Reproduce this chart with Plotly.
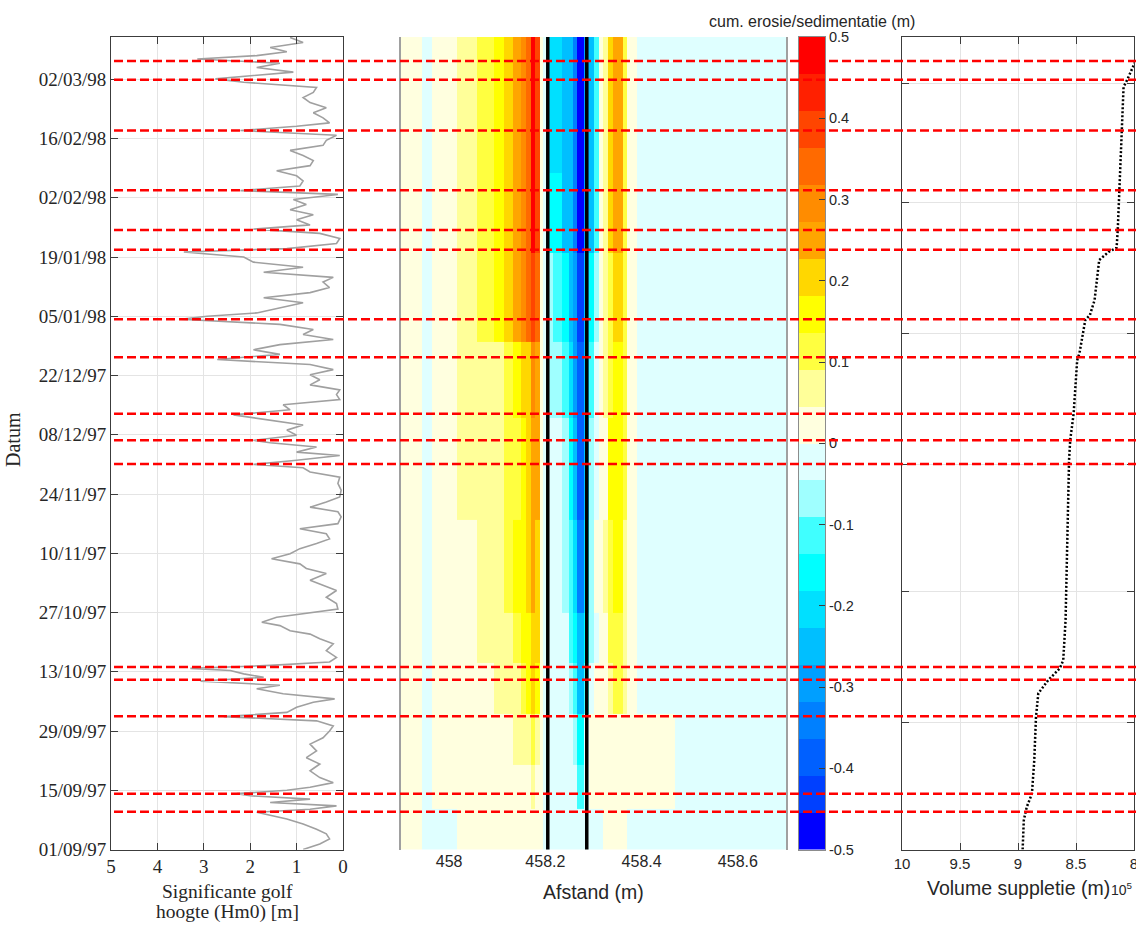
import pandas as pd
import plotly.graph_objects as go

W, H = 1136, 925
T0 = pd.Timestamp("1997-09-01")

# ---------------- data ----------------
# significant wave height (Hm0) [m] ; time in days since 01/09/97
wave_day = [0.0, 1.3, 2.5, 3.7, 4.8, 6.0, 7.2, 8.0, 8.8, 9.5, 10.3, 11.1, 11.9, 12.7, 13.2, 14.0, 14.7, 15.8,
            17.0, 18.6, 20.2, 21.7, 23.3, 24.9, 26.4, 28.0, 29.2, 30.4, 31.4, 32.4, 33.6, 34.8, 35.6, 36.8,
            38.0, 38.8, 39.8, 40.7, 41.5, 42.3, 42.8, 43.5, 44.3, 45.4, 47.0, 48.6, 49.8, 50.9, 51.7, 52.9,
            53.7, 54.9, 55.8, 56.8, 58.1, 59.6, 61.2, 62.4, 63.6, 65.2, 66.4, 67.5, 68.7, 69.9, 71.1, 72.3,
            73.4, 74.6, 75.8, 77.0, 78.6, 79.8, 80.9, 82.1, 83.3, 84.9, 86.5, 88.0, 89.2, 90.2, 91.0, 92.0,
            93.1, 93.9, 95.1, 96.1,
            96.7, 97.9, 99.1, 100.3, 101.5, 102.7, 103.9, 105.1, 106.3, 107.5, 108.6, 109.8, 111.0, 112.2,
            113.4, 114.6, 115.8, 117.0, 118.1, 119.3, 120.5, 121.7, 122.9, 124.1, 125.3, 126.0, 126.8, 128.0,
            129.2, 130.4, 131.6, 132.8, 134.1, 135.2, 136.4, 137.6, 138.8, 140.0, 141.2, 142.0, 143.2, 144.4,
            145.6, 146.6, 147.6, 148.8, 150.0, 151.2, 152.4, 153.6, 154.8, 155.7, 156.8, 158.0, 159.2, 160.4,
            161.6, 162.8, 164.0, 165.2, 166.4, 167.6, 168.8, 169.9, 170.9, 171.7, 172.9, 174.1, 175.3, 176.5,
            177.7, 178.9, 180.1, 181.3, 182.1, 182.9, 183.7, 184.8, 185.8, 186.8, 187.6, 188.5, 189.5, 190.7,
            191.9]
wave_hm0 = [0.86, 0.5, 0.29, 0.36, 0.57, 0.86, 1.21, 1.57, 1.86, 0.71, 0.14, 1.57, 0.71, 2.0, 2.29, 1.21, 0.71,
            0.21, 0.5, 0.71, 0.5, 0.79, 0.57, 0.71, 0.43, 0.29, 0.21, 0.57, 2.57, 1.21, 1.0, 0.64, 0.18, 1.29,
            1.86, 1.36, 3.07, 1.71, 2.14, 2.43, 3.29, 1.57, 0.29, 0.14, 0.36, 0.21, 0.5, 0.71, 1.14, 1.36, 1.75,
            1.43, 0.79, 0.11, 0.14, 0.36, 0.14, 0.43, 0.71, 0.36, 0.79, 0.93, 1.54, 1.14, 0.93, 0.57, 0.29, 0.36,
            0.93, 0.11, 0.04, 0.11, 0.71, 0.36, 0.07, 0.04, 0.11, 0.07, 0.71, 0.86, 1.93, 1.0, 0.07, 1.0, 0.57,
            1.57,
            1.93, 1.0, 1.21, 0.86, 1.57, 2.36, 1.14, 1.29, 0.07, 0.14, 0.07, 0.71, 0.5, 0.71, 0.21, 0.71, 2.71,
            1.36, 1.93, 1.36, 0.21, 0.86, 0.64, 1.36, 3.5, 2.93, 1.86, 1.36, 0.86, 1.71, 0.71, 0.29, 0.43, 0.21,
            1.71, 0.86, 1.93, 2.14, 3.43, 1.21, 0.14, 0.07, 0.5, 1.93, 0.71, 1.0, 0.64, 1.14, 0.79, 1.07, 0.11,
            2.21, 0.93, 0.86, 1.0, 1.43, 0.71, 0.64, 0.86, 1.14, 0.43, 0.36, 0.14, 2.21, 1.0, 0.29, 0.43, 0.64,
            0.36, 0.71, 0.86, 0.64, 0.57, 2.14, 2.75, 1.93, 1.07, 1.86, 1.36, 3.14, 1.86, 1.21, 1.57, 0.86, 1.14]

# cumulative volume of nourishment [m3]
vol_day = [0, 6.9, 10.0, 13.2, 21.0, 31.3, 36.9, 40.0, 42.8, 44.7, 54.2, 76.1, 92.0, 96.7, 103.1, 115.6, 117.3,
           125.1, 126.3, 129.8, 139.3, 141.2, 142.2, 146.4, 153.5, 169.3, 180.2, 181.8, 184.9, 186.1]
vol_m3 = [896000, 895000, 892500, 888000, 886000, 884500, 882500, 874000, 864000, 861000, 859000, 857500,
          856000, 855000, 852000, 849000, 847000, 842000, 838000, 834000, 830000, 822000, 815000, 814000,
          813000, 811000, 809000, 806000, 801000, 799000]

# storm events (red dashed lines), days since 01/09/97
event_day = [8.9, 13.2, 31.5, 40.1, 43.1, 91.1, 96.7, 103.0, 116.3, 125.3, 141.7, 146.4, 155.8, 169.9,
             181.9, 186.3]

# cumulative erosion/sedimentation [m]: column edges (Afstand, m) and time-band edges (days)
ero_x_edges = [457.900, 457.944, 457.964, 458.017, 458.058, 458.094, 458.113, 458.133, 458.149, 458.160,
               458.170, 458.179, 458.188, 458.196, 458.205, 458.215, 458.235, 458.249, 458.258, 458.266,
               458.280, 458.290, 458.301, 458.311, 458.320, 458.331, 458.340, 458.361, 458.370, 458.391,
               458.470, 458.700]
ero_day_edges = [0, 9.5, 20, 32, 44, 56, 78, 102, 120, 141, 160, 192.5]
ero_z = [
    [0.02, -0.02, -0.02, 0.02, 0.02, 0.02, 0.02, 0.02, 0.02, 0.02, 0.02, 0.02, 0.02, -0.02, -0.02, -0.02,
     -0.02, -0.02, -0.02, -0.02, -0.02, -0.02, -0.02, -0.02, 0.02, 0.02, 0.02, 0.02, -0.02, -0.02, -0.02],
    [0.02, -0.02, 0.02, 0.02, 0.02, 0.02, 0.02, 0.02, 0.02, 0.02, 0.07, 0.02, 0.02, -0.02, -0.02, -0.02,
     -0.02, -0.02, -0.02, -0.11, -0.02, 0.02, 0.02, 0.02, 0.02, 0.02, 0.02, 0.02, 0.02, 0.02, -0.02],
    [0.02, -0.02, 0.02, 0.02, 0.02, 0.02, 0.02, 0.07, 0.07, 0.07, 0.11, 0.07, 0.02, -0.02, -0.02, -0.02,
     -0.02, -0.02, -0.07, -0.16, -0.02, 0.02, 0.02, 0.02, 0.02, 0.02, 0.02, 0.02, 0.02, 0.02, -0.02],
    [0.02, -0.02, 0.02, 0.02, 0.02, 0.07, 0.07, 0.07, 0.11, 0.16, 0.20, 0.16, 0.02, -0.02, -0.02, -0.02,
     -0.02, -0.07, -0.11, -0.25, -0.11, -0.02, 0.02, 0.02, 0.02, 0.07, 0.11, 0.07, 0.02, -0.02, -0.02],
    [0.02, -0.02, 0.02, 0.02, 0.07, 0.07, 0.07, 0.11, 0.16, 0.16, 0.20, 0.20, 0.02, -0.02, -0.02, -0.02,
     -0.02, -0.11, -0.16, -0.25, -0.16, -0.07, -0.02, 0.02, 0.02, 0.11, 0.11, 0.07, 0.02, -0.02, -0.02],
    [0.02, -0.02, 0.02, 0.02, 0.07, 0.07, 0.11, 0.16, 0.16, 0.20, 0.25, 0.20, 0.02, -0.02, -0.02, -0.02,
     -0.07, -0.11, -0.20, -0.34, -0.20, -0.07, 0.02, 0.02, 0.07, 0.11, 0.16, 0.07, 0.02, -0.02, -0.02],
    [0.02, -0.02, 0.02, 0.07, 0.07, 0.07, 0.11, 0.11, 0.16, 0.20, 0.25, 0.25, 0.02, -0.02, -0.02, -0.02,
     -0.07, -0.16, -0.25, -0.39, -0.25, -0.07, -0.02, 0.02, 0.02, 0.16, 0.16, 0.11, 0.02, -0.02, -0.02],
    [0.02, -0.02, 0.02, 0.07, 0.07, 0.07, 0.11, 0.16, 0.20, 0.20, 0.30, 0.25, 0.02, -0.02, -0.07, -0.07,
     -0.11, -0.20, -0.30, -0.39, -0.25, -0.11, -0.02, 0.02, 0.07, 0.11, 0.16, 0.11, 0.02, -0.02, -0.02],
    [0.02, -0.02, 0.02, 0.07, 0.11, 0.16, 0.20, 0.25, 0.30, 0.34, 0.39, 0.34, 0.02, -0.02, -0.07, -0.11,
     -0.16, -0.25, -0.30, -0.43, -0.25, -0.16, -0.07, 0.02, 0.07, 0.11, 0.20, 0.11, 0.02, -0.02, -0.02],
    [0.02, -0.02, 0.02, 0.07, 0.11, 0.16, 0.20, 0.25, 0.30, 0.34, 0.48, 0.39, 0.02, -0.02, -0.16, -0.16,
     -0.25, -0.25, -0.34, -0.48, -0.30, -0.25, -0.11, 0.02, 0.07, 0.20, 0.25, 0.11, 0.02, -0.02, -0.02],
    [0.02, -0.02, 0.02, 0.07, 0.11, 0.16, 0.20, 0.25, 0.30, 0.34, 0.48, 0.39, 0.02, -0.02, -0.20, -0.20,
     -0.25, -0.25, -0.34, -0.48, -0.30, -0.25, -0.11, 0.02, 0.07, 0.20, 0.25, 0.11, 0.02, -0.02, -0.02],
]
structure_x = [458.205, 458.286]

# colour levels of the colour bar
cmap_colors = ["#0000FF", "#0040FF", "#0060FF", "#0080FF", "#009FFF", "#00BFFF", "#00E0FF", "#00FFFF",
               "#40FFFF", "#9FFFFF", "#DFFFFF", "#FFFFDF", "#FFFF99", "#FFFF40", "#FFFF00", "#FFD700",
               "#FFA500", "#FF8C00", "#FF6A00", "#FF4500", "#FF2000", "#FF0000"]
cbar_ticks = [0.5, 0.4, 0.3, 0.2, 0.1, 0, -0.1, -0.2, -0.3, -0.4, -0.5]
cbar_ticktext = ["0.5", "0.4", "0.3", "0.2", "0.1", "0", "-0.1", "-0.2", "-0.3", "-0.4", "-0.5"]
wave_ticks = [5, 4, 3, 2, 1, 0]
afstand_ticks = [458, 458.2, 458.4, 458.6]
afstand_ticktext = ["458", "458.2", "458.4", "458.6"]
vol_ticks = [1000000, 950000, 900000, 850000, 800000]
vol_ticktext = ["10", "9.5", "9", "8.5", "8"]


def to_date(days):
    return [T0 + pd.Timedelta(days=float(d)) for d in days]


# ---------------- figure ----------------
SERIF = "Liberation Serif, Times New Roman, serif"
SANS = "Liberation Sans, Arial, sans-serif"
TXT = "#262626"
GRID = "#E4E4E4"
BOX = "#3C3C3C"

ytop = 1 - 37 / H
ybot = 1 - 849.5 / H
XL = [111 / W, 343 / W]
XM = [401 / W, 786 / W]
XC = [799 / W, 825 / W]
XR = [902 / W, 1134 / W]

n = len(cmap_colors)
cscale = []
for k, c in enumerate(cmap_colors):
    cscale.append([k / n, c])
    cscale.append([(k + 1) / n, c])

fig = go.Figure()

fig.add_trace(go.Scatter(x=wave_hm0, y=to_date(wave_day), mode="lines",
                         line=dict(color="#A0A0A0", width=1.6), xaxis="x", yaxis="y"))

fig.add_trace(go.Heatmap(x=ero_x_edges, y=to_date(ero_day_edges), z=ero_z, colorscale=cscale,
                         zmin=-0.5, zmax=0.5, showscale=False, xaxis="x2", yaxis="y2"))

cb_edges = [-0.5 + k / n for k in range(n + 1)]
cb_mid = [[-0.5 + (k + 0.5) / n] for k in range(n)]
fig.add_trace(go.Heatmap(x=[0, 1], y=cb_edges, z=cb_mid, colorscale=cscale, zmin=-0.5, zmax=0.5,
                         showscale=False, xaxis="x4", yaxis="y4"))

fig.add_trace(go.Scatter(x=vol_m3, y=to_date(vol_day), mode="lines",
                         line=dict(color="black", width=2.5, dash="2px,2px"), xaxis="x3", yaxis="y3"))

date_range = [T0, T0 + pd.Timedelta(days=192)]
dtick = 14 * 86400000

box_axis = dict(showline=True, linecolor=BOX, linewidth=1, mirror="ticks", ticks="inside", ticklen=7,
                tickcolor=BOX, showgrid=True, gridcolor=GRID, gridwidth=1, zeroline=False, automargin=False,
                ticklabeloverflow="allow")

fig.update_layout(
    width=W, height=H, margin=dict(l=0, r=0, t=0, b=0, pad=0, autoexpand=False), autosize=False,
    paper_bgcolor="white", plot_bgcolor="white", showlegend=False,
    xaxis=dict(domain=XL, anchor="y", range=[5, 0], tickvals=wave_ticks,
               tickfont=dict(family=SERIF, size=19, color=TXT), **box_axis),
    yaxis=dict(domain=[ybot, ytop], anchor="x", type="date", range=date_range, tick0=T0, dtick=dtick,
               tickformat="%d/%m/%y", tickfont=dict(family=SERIF, size=19, color=TXT), **box_axis),
    xaxis2=dict(domain=XM, anchor="y2", range=[457.9, 458.7], tickvals=afstand_ticks,
                ticktext=afstand_ticktext, ticks="", showgrid=False, zeroline=False, showline=False,
                automargin=False, tickfont=dict(family=SANS, size=16, color=TXT)),
    yaxis2=dict(domain=[ybot, ytop], anchor="x2", matches="y", showticklabels=False, ticks="",
                showgrid=False, zeroline=False, showline=True, linecolor="#A0A0A0", linewidth=1.5,
                mirror=True, automargin=False),
    xaxis4=dict(domain=XC, anchor="y4", range=[0, 1], showticklabels=False, ticks="", showgrid=False,
                zeroline=False, showline=True, linecolor="#8C8C8C", mirror=True, automargin=False),
    yaxis4=dict(domain=[ybot, ytop], anchor="x4", side="right", range=[-0.5, 0.5], tickvals=cbar_ticks,
                ticktext=cbar_ticktext, ticks="inside", ticklen=6, tickcolor=BOX, showgrid=False,
                zeroline=False, showline=True, linecolor="#8C8C8C", mirror=True, automargin=False,
                tickfont=dict(family=SANS, size=14.5, color=TXT)),
    xaxis3=dict(domain=XR, anchor="y3", range=[1000000, 800000], tickvals=vol_ticks, ticktext=vol_ticktext,
                tickfont=dict(family=SANS, size=15, color=TXT), **box_axis),
    yaxis3=dict(domain=[ybot, ytop], anchor="x3", matches="y", showticklabels=False, **box_axis),
)

shapes = []
for xs in structure_x:
    shapes.append(dict(type="line", xref="x2", yref="paper", x0=xs, x1=xs, y0=ybot, y1=ytop,
                       line=dict(color="black", width=3.5), layer="above"))
for d in event_day:
    dt = T0 + pd.Timedelta(days=d)
    shapes.append(dict(type="line", xref="paper", yref="y", x0=114 / W, x1=1.0, y0=dt, y1=dt,
                       line=dict(color="#FF0000", width=2.5, dash="9px,4px"), layer="above"))
fig.update_layout(shapes=shapes)

ann = [
    dict(text="Datum", x=13 / W, y=1 - 440 / H, textangle=-90, font=dict(family=SERIF, size=20, color=TXT)),
    dict(text="Significante golf", x=227 / W, y=1 - 891 / H, font=dict(family=SERIF, size=19.5, color=TXT)),
    dict(text="hoogte (Hm0) [m]", x=227 / W, y=1 - 912 / H, font=dict(family=SERIF, size=19.5, color=TXT)),
    dict(text="Afstand (m)", x=593.5 / W, y=1 - 892 / H, font=dict(family=SANS, size=19.5, color=TXT)),
    dict(text="cum. erosie/sedimentatie (m)", x=812 / W, y=1 - 22 / H,
         font=dict(family=SANS, size=16, color=TXT)),
    dict(text="Volume suppletie (m)", x=1018 / W, y=1 - 888 / H, font=dict(family=SANS, size=19.5, color=TXT)),
    dict(text="10<sup>5</sup>", x=1110 / W, y=1 - 889 / H, xanchor="left",
         font=dict(family=SANS, size=14, color=TXT)),
]
for a in ann:
    a.update(xref="paper", yref="paper", showarrow=False, borderpad=0)
    a.setdefault("xanchor", "center")
    a.setdefault("yanchor", "middle")
fig.update_layout(annotations=ann)

fig.write_html("out.html")
